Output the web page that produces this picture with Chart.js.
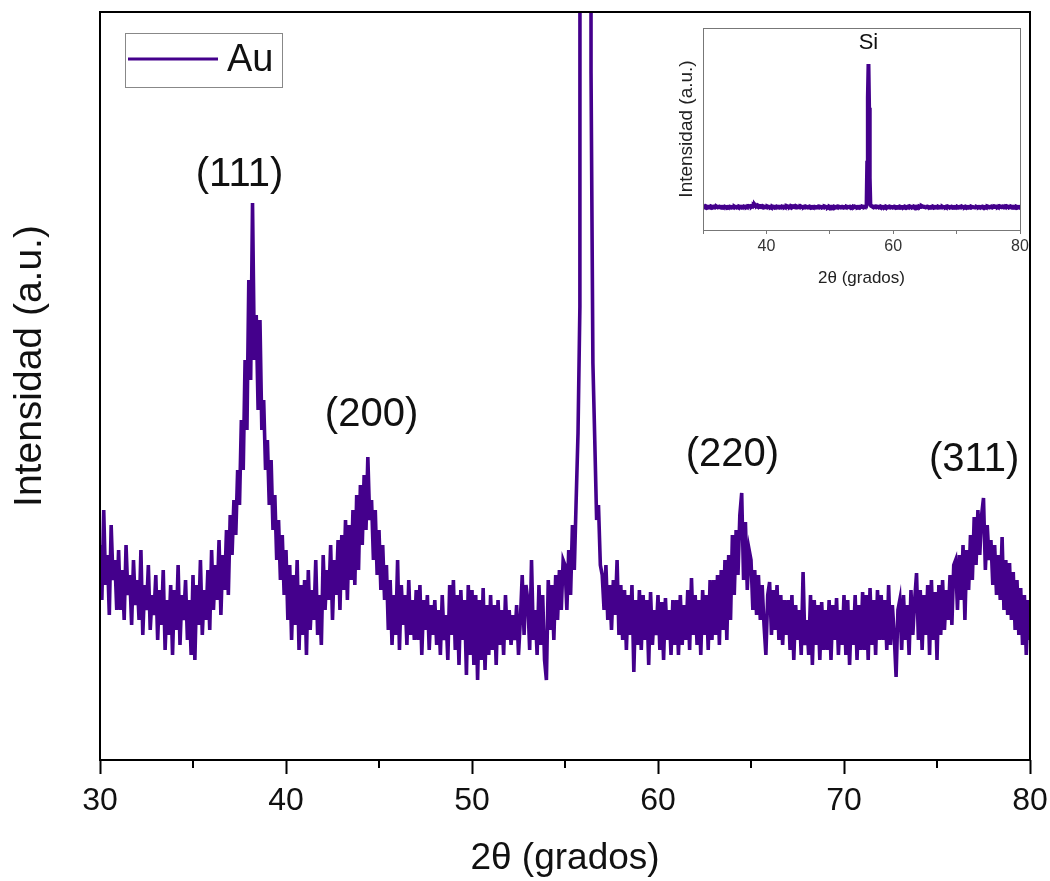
<!DOCTYPE html>
<html><head><meta charset="utf-8">
<script src="https://cdn.jsdelivr.net/npm/chart.js@4.4.1/dist/chart.umd.min.js"></script>
<style>
html,body{margin:0;padding:0;background:#fff;}
#wrap{position:relative;width:1050px;height:881px;overflow:hidden;}
#main{position:absolute;left:0;top:0;}
#inset{position:absolute;left:650px;top:20px;}
</style></head><body>
<div id="wrap"><canvas id="main" width="1050" height="881"></canvas><canvas id="inset" width="390" height="275"></canvas></div>
<script>
// 2θ scan grid (degrees)
const scanStart = 30, scanStep = 0.1;
// Intensity (a.u.), one row per degree
const intensity = [
 215,160,250,175,205,145,235,180,200,150, // 30
 210,150,190,140,215,165,185,135,200,155, // 31
 180,140,210,125,175,150,195,130,165,145, // 32
 185,120,170,135,190,110,160,125,175,105, // 33
 170,130,195,115,165,140,180,120,160,105, // 34
 185,100,175,135,200,125,170,140,190,130, // 35
 210,150,195,160,220,145,205,170,230,165, // 36
 245,205,260,225,290,255,340,290,400,330, // 37
 480,380,557,400,445,350,440,330,360,290, // 38
 320,255,300,230,265,200,240,180,225,165, // 39
 210,140,195,120,185,135,200,110,175,125, // 40
 180,105,190,130,170,140,200,125,165,115, // 41
 205,150,190,160,215,140,200,165,220,150, // 42
 225,170,240,160,235,180,250,175,265,190, // 43
 275,215,285,230,303,240,260,200,250,185, // 44
 230,170,215,160,195,130,180,115,165,125, // 45
 200,110,175,135,165,115,180,125,160,120, // 46
 170,120,175,105,160,130,165,110,155,125, // 47
 160,115,150,105,165,120,145,100,175,125, // 48
 180,110,165,95,170,120,160,85,175,105,   // 49
 170,95,165,80,160,100,172,90,155,105,    // 50
 165,110,155,95,160,115,150,105,165,120,  // 51
 150,115,145,120,155,105,140,185,125,175, // 52
 160,110,200,120,150,105,175,115,165,100, // 53
 80,180,130,175,120,185,140,190,150,200,  // 54
 195,150,210,165,235,190,260,327,453,9000, // 55
 22000,28750,20000,6000,687,397,320,240,255,195, // 56
 185,150,195,140,175,130,180,145,200,125, // 57
 175,120,170,110,165,125,175,88,160,115,  // 58
 170,110,165,120,160,95,168,115,150,125,  // 59
 165,110,158,100,162,120,150,105,160,115, // 60
 160,105,165,115,155,120,170,110,182,125, // 61
 165,115,160,105,170,125,165,110,180,120, // 62
 180,125,185,115,190,130,200,120,205,140, // 63
 225,165,230,185,245,267,180,238,170,210, // 64
 200,150,190,145,185,140,175,135,105,165, // 65
 178,125,170,130,175,120,165,115,160,125, // 66
 160,110,165,100,155,120,150,105,188,115, // 67
 140,105,165,95,160,115,155,100,158,110,  // 68
 150,110,160,100,155,120,162,105,150,115, // 69
 165,105,160,95,150,115,165,100,155,110,  // 70
 168,110,165,100,172,115,160,105,170,120, // 71
 165,120,160,110,175,115,155,125,83,150,  // 72
 160,110,165,120,155,105,170,125,160,187, // 73
 120,170,110,165,125,175,105,180,120,168, // 74
 100,175,125,180,130,170,140,185,135,195, // 75
 200,150,205,160,215,140,210,170,225,180, // 76
 243,195,250,205,245,262,190,235,200,220, // 77
 175,215,165,205,160,223,150,200,145,197, // 78
 140,188,130,180,125,172,115,165,105,160, // 79
 120                                      // 80
];
const twoTheta = intensity.map((_, i) => Math.round((scanStart + i * scanStep) * 10) / 10);

// Axis ticks
const xMajorStep = 10;
const xMinorTicks = [35, 45, 55, 65, 75];
const insetTickLabels = [40, 60, 80];

// Peak annotations
const peakLabels = ['(111)', '(200)', '(220)', '(311)'];
const peakLabelX = [37.5, 44.6, 64.0, 77.0];
const peakLabelY = [585, 345, 305, 300];

// Inset annotation
const insetLabel = 'Si';
const insetLabelX = 56.1;
const insetLabelY = 32950;

const FONT = '"Liberation Sans", Arial, sans-serif';
const PURPLE = '#44008c';
Chart.defaults.font.family = FONT;

const points = twoTheta.map((t, i) => ({ x: t, y: intensity[i] }));

const mainDecor = {
  id: 'mainDecor',
  afterDraw(chart) {
    const { ctx, chartArea: a, scales: { x, y } } = chart;
    ctx.save();
    ctx.strokeStyle = '#000';
    ctx.lineWidth = 2;
    ctx.strokeRect(a.left, a.top, a.right - a.left, a.bottom - a.top);
    xMinorTicks.forEach(v => {
      const px = x.getPixelForValue(v);
      ctx.beginPath(); ctx.moveTo(px, a.bottom); ctx.lineTo(px, a.bottom + 8); ctx.stroke();
    });
    ctx.fillStyle = '#111';
    ctx.font = '40px ' + FONT;
    ctx.textAlign = 'center';
    ctx.textBaseline = 'middle';
    peakLabels.forEach((t, i) => ctx.fillText(t, x.getPixelForValue(peakLabelX[i]), y.getPixelForValue(peakLabelY[i])));
    ctx.save();
    ctx.translate(30, 366);
    ctx.rotate(-Math.PI / 2);
    ctx.font = '39px ' + FONT;
    ctx.fillText('Intensidad (a.u.)', 0, 0);
    ctx.restore();
    const lx = a.left + 25, ly = a.top + 21;
    ctx.strokeStyle = '#888'; ctx.lineWidth = 1;
    ctx.strokeRect(lx + 0.5, ly + 0.5, 157, 54);
    ctx.strokeStyle = PURPLE; ctx.lineWidth = 3;
    ctx.beginPath(); ctx.moveTo(lx + 3, ly + 26); ctx.lineTo(lx + 93, ly + 26); ctx.stroke();
    ctx.textAlign = 'left';
    ctx.font = '38px ' + FONT;
    ctx.fillText(chart.data.datasets[0].label, lx + 102, ly + 28);
    ctx.restore();
  }
};

new Chart(document.getElementById('main'), {
  type: 'line',
  data: { datasets: [{ label: 'Au', data: points, borderColor: PURPLE, borderWidth: 3.6, pointRadius: 0, fill: false, tension: 0, borderJoinStyle: 'miter' }] },
  options: {
    responsive: false, animation: false, devicePixelRatio: 1,
    layout: { padding: { left: 100, right: 20, top: 12, bottom: 0 } },
    plugins: { legend: { display: false }, tooltip: { enabled: false } },
    scales: {
      x: {
        type: 'linear', min: 30, max: 80,
        ticks: { stepSize: xMajorStep, color: '#111', font: { size: 32 }, padding: 8, maxRotation: 0 },
        grid: { display: true, drawOnChartArea: false, drawTicks: true, tickLength: 14, tickColor: '#000', tickWidth: 2 },
        border: { display: false },
        title: { display: true, text: '2θ (grados)', color: '#111', font: { size: 37 }, padding: { top: 0, bottom: 0 } },
        afterFit(s) { s.height = 121; s.paddingLeft = 0; s.paddingRight = 0; }
      },
      y: { display: false, min: 0, max: 748 }
    }
  },
  plugins: [mainDecor]
});

const insetDecor = {
  id: 'insetDecor',
  afterDraw(chart) {
    const { ctx, chartArea: a, scales: { x, y } } = chart;
    ctx.save();
    ctx.strokeStyle = '#777'; ctx.lineWidth = 1;
    ctx.strokeRect(a.left + 0.5, a.top + 0.5, a.right - a.left, a.bottom - a.top);
    ctx.fillStyle = '#111';
    ctx.font = '22px ' + FONT;
    ctx.textAlign = 'center'; ctx.textBaseline = 'middle';
    ctx.fillText(insetLabel, x.getPixelForValue(insetLabelX), y.getPixelForValue(insetLabelY));
    ctx.restore();
  }
};

new Chart(document.getElementById('inset'), {
  type: 'line',
  data: { datasets: [{ label: 'Si', data: points, borderColor: PURPLE, borderWidth: 4, pointRadius: 0, fill: false, tension: 0 }] },
  options: {
    responsive: false, animation: false, devicePixelRatio: 1,
    layout: { padding: { left: 20, right: 20, top: 8, bottom: 0 } },
    plugins: { legend: { display: false }, tooltip: { enabled: false } },
    scales: {
      x: {
        type: 'linear', min: 30, max: 80,
        ticks: { stepSize: 10, autoSkip: false, maxRotation: 0, color: '#333', font: { size: 16 }, padding: 3,
                 callback: v => insetTickLabels.includes(v) ? String(v) : '' },
        grid: { display: true, drawOnChartArea: false, tickLength: 4, tickColor: '#777', tickWidth: 1 },
        border: { display: false },
        title: { display: true, text: '2θ (grados)', color: '#222', font: { size: 17 }, padding: { top: 0, bottom: 6 } },
        afterFit(s) { s.height = 65; s.paddingLeft = 0; s.paddingRight = 0; }
      },
      y: {
        min: -4450, max: 35950,
        ticks: { display: false }, grid: { display: false }, border: { display: false },
        title: { display: true, text: 'Intensidad (a.u.)', color: '#222', font: { size: 19 }, padding: { top: 5, bottom: 0 } },
        afterFit(s) { s.width = 33; }
      }
    }
  },
  plugins: [insetDecor]
});
</script>
</body></html>
